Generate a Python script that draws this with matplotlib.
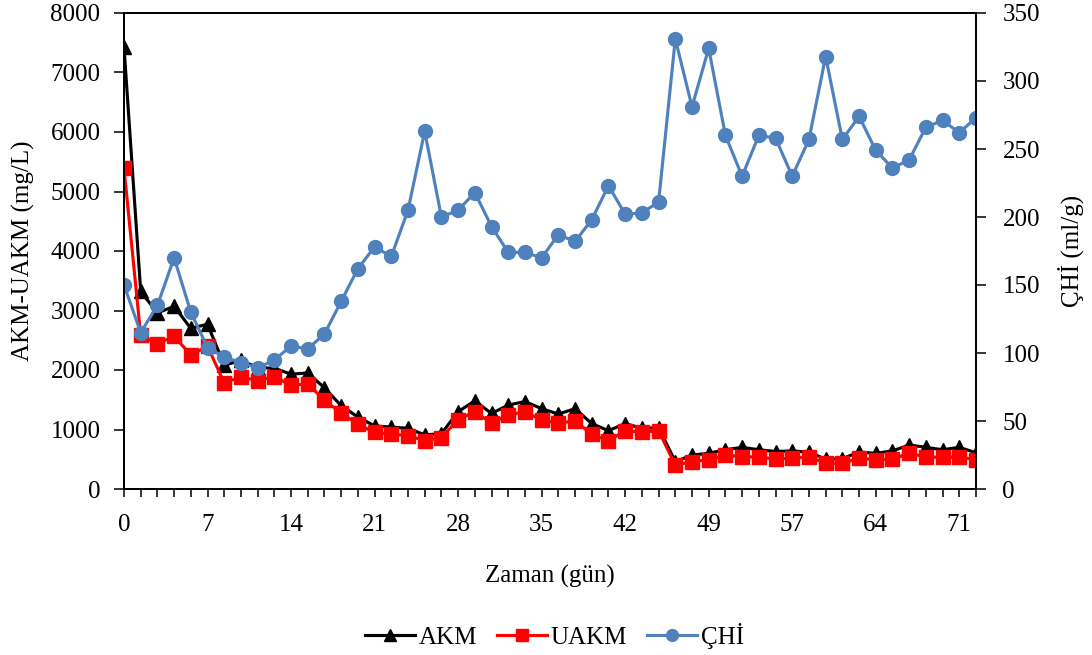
import numpy as np
import matplotlib
matplotlib.use('Agg')
import matplotlib.pyplot as plt
from matplotlib.ticker import MultipleLocator

plt.rcParams['font.family'] = ['Liberation Serif', 'DejaVu Serif']
plt.rcParams['font.size'] = 18

# Measurements (one per sampling point), day labels shown every 5th sample
day_labels = ['0', '7', '14', '21', '28', '35', '42', '49', '57', '64', '71']

akm = [7430, 3320, 2960, 3070, 2700, 2770, 2080, 2160, 2040, 2030,
       1930, 1950, 1700, 1400, 1210, 1060, 1040, 1020, 910, 930,
       1300, 1480, 1270, 1410, 1470, 1350, 1260, 1350, 1100, 980,
       1100, 1020, 1030, 460, 570, 600, 660, 700, 660, 630,
       640, 620, 500, 510, 620, 600, 640, 740, 700, 660,
       700, 610]

uakm = [5390, 2580, 2440, 2570, 2250, 2400, 1780, 1890, 1820, 1890,
        1740, 1770, 1490, 1275, 1090, 950, 925, 895, 815, 865,
        1165, 1300, 1105, 1245, 1300, 1160, 1105, 1145, 920, 810,
        980, 950, 980, 400, 460, 490, 570, 540, 540, 500,
        520, 540, 430, 430, 520, 490, 500, 600, 540, 530,
        540, 490]

chi = [150, 115, 135, 170, 130, 104, 97, 93, 89, 95,
       105, 103, 114, 138, 162, 178, 171, 205, 263, 200,
       205, 218, 193, 174, 174, 170, 187, 182, 198, 223,
       202, 203, 211, 331, 281, 324, 260, 230, 260, 258,
       230, 257, 318, 257, 274, 249, 236, 242, 266, 271,
       262, 273]

x = np.arange(len(akm))

fig = plt.figure(figsize=(10.92, 6.55), dpi=100)
ax = fig.add_axes([124 / 1092, 1 - 489 / 655, 852 / 1092, 476 / 655])
ax2 = ax.twinx()

l1, = ax.plot(x, akm, color='black', lw=2.25, marker='^', markersize=9.5, label='AKM')
l2, = ax.plot(x, uakm, color='#FF0000', lw=2.25, marker='s', markersize=9.5, label='UAKM')
l3, = ax2.plot(x, chi, color='#4F81BD', lw=2.25, marker='o', markersize=10, label='ÇHİ')

ax.set_xlim(0, len(akm) - 1)
ax.set_ylim(0, 8000)
ax2.set_ylim(0, 350)
ax.yaxis.set_major_locator(MultipleLocator(1000))
ax2.yaxis.set_major_locator(MultipleLocator(50))

ax.set_xticks(np.arange(0, len(akm), 5))
ax.set_xticklabels(day_labels)
ax.set_xticks(x, minor=True)

for a in (ax, ax2):
    for s in a.spines.values():
        s.set_linewidth(1.3)
        s.set_color('black')

ax.tick_params(axis='x', which='both', direction='out', length=6, width=1.1, pad=12)
ax.tick_params(axis='y', direction='out', length=7, width=1.1, pad=10)
ax2.tick_params(axis='y', direction='out', length=7, width=1.1, pad=12)

ax.set_xlabel('Zaman (gün)')
ax.xaxis.set_label_coords(0.5, -0.16)
ax.set_ylabel('AKM-UAKM (mg/L)')
ax.yaxis.set_label_coords(-0.104, 0.5)
ax2.set_ylabel('ÇHİ (ml/g)')
ax2.yaxis.set_label_coords(1.096, 0.5)

ax.legend(handles=[l1, l2, l3], loc='center', bbox_to_anchor=(0.505, -0.309),
          ncol=3, frameon=False, handlelength=2.0, handletextpad=0.15,
          columnspacing=0.8, markerscale=0.85)

fig.savefig('out.png', dpi=100)
